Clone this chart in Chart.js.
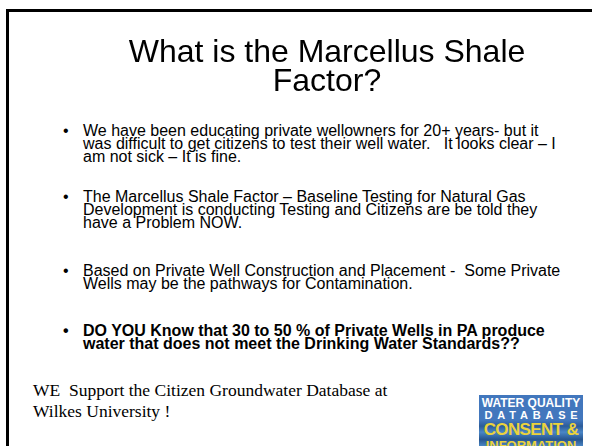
<!DOCTYPE html>
<html>
<head>
<meta charset="utf-8">
<script src="https://cdn.jsdelivr.net/npm/chart.js@4/dist/chart.umd.min.js"></script>
<style>
  html, body { margin: 0; padding: 0; width: 592px; height: 446px; overflow: hidden; background: #fff; }
  #slide { position: absolute; left: 6px; top: 9px; width: 700px; height: 520px; border: 3px solid #000; box-sizing: border-box; }
  #titleChart { position: absolute; left: 0; top: 0; }
  .bullet { position: absolute; left: 83px; white-space: nowrap; font-family: "Liberation Sans", Arial, sans-serif; font-size: 16px; line-height: 13px; color: #000; }
  .bullet::before { content: "\2022"; position: absolute; left: -20px; top: 0; }
  .bullet.bold { font-weight: bold; }
  #footer { position: absolute; left: 33px; top: 380px; font-family: "Liberation Serif", "Times New Roman", serif; font-size: 17.5px; line-height: 21px; color: #000; }
  #logo { position: absolute; left: 479px; top: 395px; width: 104px; height: 60px; overflow: hidden;
          background: linear-gradient(180deg, #4277bd 0%, #4277bd 42%, #2c5c9a 52%, #4a86c6 62%, #27558f 74%, #4c8ac8 86%, #1f4a86 100%);
          font-family: "Liberation Sans", Arial, sans-serif; font-weight: bold; text-align: center; }
  #logo div { white-space: nowrap; }
</style>
</head>
<body>
<div id="slide"></div>
<canvas id="titleChart" width="654" height="110"></canvas>
<div id="bullets"></div>
<div id="footer"></div>
<div id="logo">
  <div style="color:#fff;font-size:12px;line-height:12px;margin-top:2px;">WATER QUALITY</div>
  <div style="color:#fff;font-size:11px;line-height:12px;letter-spacing:4.8px;padding-left:5px;">DATABASE</div>
  <div style="color:#ebd23c;font-size:17px;line-height:18px;letter-spacing:-0.6px;">CONSENT &amp;</div>
  <div style="color:#ebd23c;font-size:13px;line-height:13px;">INFORMATION</div>
</div>
<script>
const titleLines = ["What is the Marcellus Shale", "Factor?"];
const bulletLines = [
  ["We have been educating private wellowners for 20+ years- but it",
   "was difficult to get citizens to test their well water.&nbsp;&nbsp; It looks clear \u2013 I",
   "am not sick \u2013 It is fine."],
  ["The Marcellus Shale Factor \u2013 Baseline Testing for Natural Gas",
   "Development is conducting Testing and Citizens are be told they",
   "have a Problem NOW."],
  ["Based on Private Well Construction and Placement -&nbsp; Some Private",
   "Wells may be the pathways for Contamination."],
  ["DO YOU Know that 30 to 50 % of Private Wells in PA produce",
   "water that does not meet the Drinking Water Standards??"]
];
const boldBullets = [false, false, false, true];
const footerLines = ["WE&nbsp; Support the Citizen Groundwater Database at", "Wilkes University !"];

// layout only
const bulletTops = [124, 190, 264, 324];

new Chart(document.getElementById("titleChart"), {
  type: "scatter",
  data: { datasets: [{ data: [] }] },
  options: {
    responsive: false,
    animation: false,
    layout: { padding: 0 },
    scales: { x: { display: false }, y: { display: false } },
    plugins: {
      legend: { display: false },
      tooltip: { enabled: false },
      title: {
        display: true,
        text: titleLines,
        color: "#000",
        font: { family: "'Liberation Sans', Arial, sans-serif", size: 32, weight: "normal", lineHeight: 0.92 },
        padding: { top: 38, bottom: 0 }
      }
    }
  }
});

const holder = document.getElementById("bullets");
bulletLines.forEach(function (lines, i) {
  const d = document.createElement("div");
  d.className = "bullet" + (boldBullets[i] ? " bold" : "");
  d.style.top = bulletTops[i] + "px";
  d.innerHTML = lines.join("<br>");
  holder.appendChild(d);
});

document.getElementById("footer").innerHTML = footerLines.join("<br>");
</script>
</body>
</html>
